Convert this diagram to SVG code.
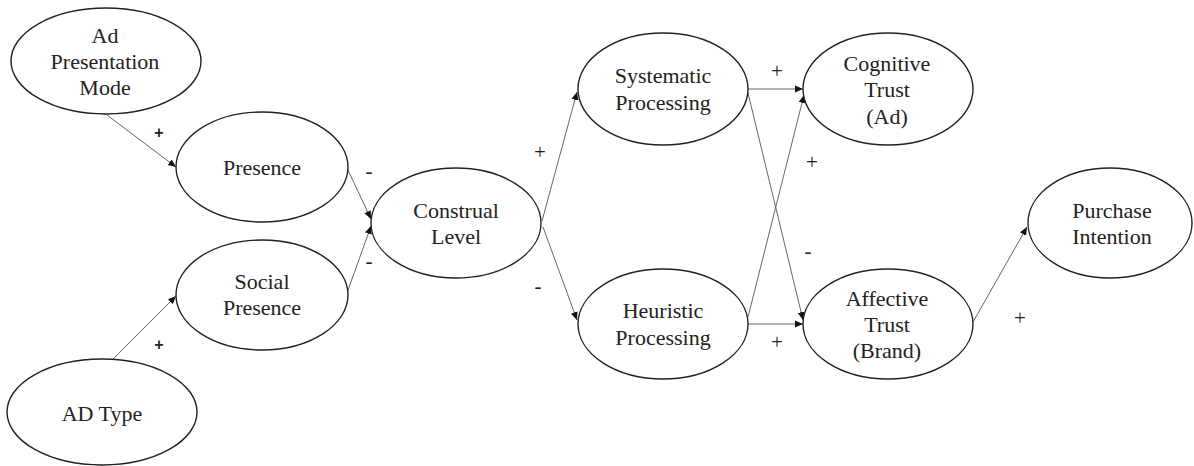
<svg xmlns="http://www.w3.org/2000/svg" width="1194" height="466" viewBox="0 0 1194 466">
<style>
.node ellipse{fill:#fff;stroke:#222;stroke-width:1.4}
.node text,.lbl{font-family:"Liberation Serif","Times New Roman",serif;font-size:22px;fill:#222;text-anchor:middle}
.edge{stroke:#666;stroke-width:1;fill:none;marker-end:url(#arr)}
.lbl{font-size:21px}
.blbl{font-family:"Liberation Sans",Arial,sans-serif;font-size:16px;font-weight:bold;fill:#222;text-anchor:middle}
</style>
<defs>
<marker id="arr" markerUnits="userSpaceOnUse" markerWidth="9" markerHeight="8" refX="8" refY="4" orient="auto">
<path d="M0,0.5 L8,4 L0,7.5 Z" fill="#111"/>
</marker>
</defs>
<rect width="1194" height="466" fill="#fff"/>
<g id="connectors">
<path class="edge" d="M107,115 L176,167"/>
<path class="edge" d="M347,168 L371,219"/>
<path class="edge" d="M347,293 L371,226"/>
<path class="edge" d="M112,360 L176,296"/>
<path class="edge" d="M542,221 L577,92"/>
<path class="edge" d="M543,227 L577,320"/>
<path class="edge" d="M748,89 L803,89"/>
<path class="edge" d="M748,93 L803,320"/>
<path class="edge" d="M748,317 L804,95"/>
<path class="edge" d="M748,324 L803,324"/>
<path class="edge" d="M973,322 L1027,227"/>
<text class="blbl" x="159" y="138">+</text>
<text class="lbl" x="369" y="178">-</text>
<text class="lbl" x="369" y="268">-</text>
<text class="blbl" x="159" y="350">+</text>
<text class="lbl" x="540" y="159">+</text>
<text class="lbl" x="538" y="293">-</text>
<text class="lbl" x="777" y="78">+</text>
<text class="lbl" x="808" y="258">-</text>
<text class="lbl" x="812" y="169">+</text>
<text class="lbl" x="777" y="349">+</text>
<text class="lbl" x="1020" y="325">+</text>
</g>
<g id="ad-presentation-mode" class="node">
<ellipse cx="106" cy="61" rx="95" ry="53"/>
<text x="105" y="43">Ad</text>
<text x="105" y="69">Presentation</text>
<text x="105" y="95">Mode</text>
</g>
<g id="presence" class="node">
<ellipse cx="262" cy="167" rx="86" ry="55"/>
<text x="262" y="175">Presence</text>
</g>
<g id="social-presence" class="node">
<ellipse cx="262" cy="295" rx="86" ry="55"/>
<text x="262" y="289">Social</text>
<text x="262" y="315">Presence</text>
</g>
<g id="ad-type" class="node">
<ellipse cx="102" cy="412" rx="95" ry="53"/>
<text x="102" y="421">AD Type</text>
</g>
<g id="construal-level" class="node">
<ellipse cx="456" cy="223" rx="85" ry="55"/>
<text x="456" y="218">Construal</text>
<text x="456" y="244">Level</text>
</g>
<g id="systematic-processing" class="node">
<ellipse cx="663" cy="89" rx="85" ry="56"/>
<text x="663" y="83">Systematic</text>
<text x="663" y="110">Processing</text>
</g>
<g id="heuristic-processing" class="node">
<ellipse cx="663" cy="324" rx="85" ry="55"/>
<text x="663" y="318">Heuristic</text>
<text x="663" y="345">Processing</text>
</g>
<g id="cognitive-trust" class="node">
<ellipse cx="888" cy="89" rx="85" ry="56"/>
<text x="887" y="71">Cognitive</text>
<text x="887" y="97">Trust</text>
<text x="887" y="124">(Ad)</text>
</g>
<g id="affective-trust" class="node">
<ellipse cx="888" cy="324" rx="85" ry="55"/>
<text x="887" y="306">Affective</text>
<text x="887" y="332">Trust</text>
<text x="887" y="358">(Brand)</text>
</g>
<g id="purchase-intention" class="node">
<ellipse cx="1110" cy="223" rx="82" ry="55"/>
<text x="1112" y="218">Purchase</text>
<text x="1112" y="244">Intention</text>
</g>
</svg>
